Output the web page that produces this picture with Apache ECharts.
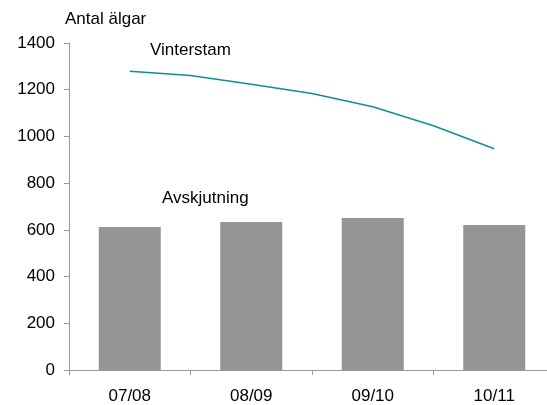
<!DOCTYPE html>
<html><head><meta charset="utf-8">
<script src="https://cdn.jsdelivr.net/npm/echarts@6/dist/echarts.min.js"></script>
<style>html,body{margin:0;padding:0;background:#fff}#c{width:547px;height:405px}</style>
</head><body><div id="c"></div>
<script>
var categories = ['07/08', '08/09', '09/10', '10/11'];
var avskjutning = [612, 634, 651, 621];
// Vinterstam sampled at half-category positions (0.5 = 07/08 centre)
var vinterPos = [0.5, 1.0, 1.5, 2.0, 2.5, 3.0, 3.5];
var vinterstam = [1279, 1261, 1223, 1184, 1127, 1046, 947];
var yTicks = [0, 200, 400, 600, 800, 1000, 1200, 1400];

var chart = echarts.init(document.getElementById('c'));
var font = 'Liberation Sans, Arial, sans-serif';
chart.setOption({
  animation: false,
  grid: { left: 69, width: 486, top: 43, bottom: 35, containLabel: false, outerBoundsMode: 'none' },
  xAxis: [{
    type: 'category', data: categories,
    axisLine: { lineStyle: { color: '#999', width: 1 } },
    axisTick: { show: true, length: 5, lineStyle: { color: '#999' } },
    axisLabel: { color: '#000', fontSize: 17, fontFamily: font, margin: 18 },
    splitLine: { show: false }
  }, {
    type: 'value', min: 0, max: 4, show: false
  }],
  yAxis: {
    type: 'value', min: yTicks[0], max: yTicks[yTicks.length - 1], interval: 200,
    axisLine: { show: true, lineStyle: { color: '#999', width: 1 } },
    axisTick: { show: true, length: 5, lineStyle: { color: '#999' } },
    axisLabel: { color: '#000', fontSize: 17, fontFamily: font, margin: 14,
      formatter: function (v) { return String(v); } },
    splitLine: { show: false }
  },
  series: [{
    type: 'bar', data: avskjutning, barWidth: 62, xAxisIndex: 0,
    itemStyle: { color: '#959595' }
  }, {
    type: 'line', xAxisIndex: 1,
    data: vinterPos.map(function (p, i) { return [p, vinterstam[i]]; }),
    showSymbol: false, symbol: 'none',
    lineStyle: { color: '#128f8f', width: 1.5 }
  }],
  graphic: [
    { type: 'text', left: 65, top: 11, style: { text: 'Antal älgar', font: '17px ' + font, fill: '#000' } },
    { type: 'text', left: 150, top: 42, style: { text: 'Vinterstam', font: '17px ' + font, fill: '#000' } },
    { type: 'text', left: 162, top: 190, style: { text: 'Avskjutning', font: '17px ' + font, fill: '#000' } }
  ]
});
</script></body></html>
